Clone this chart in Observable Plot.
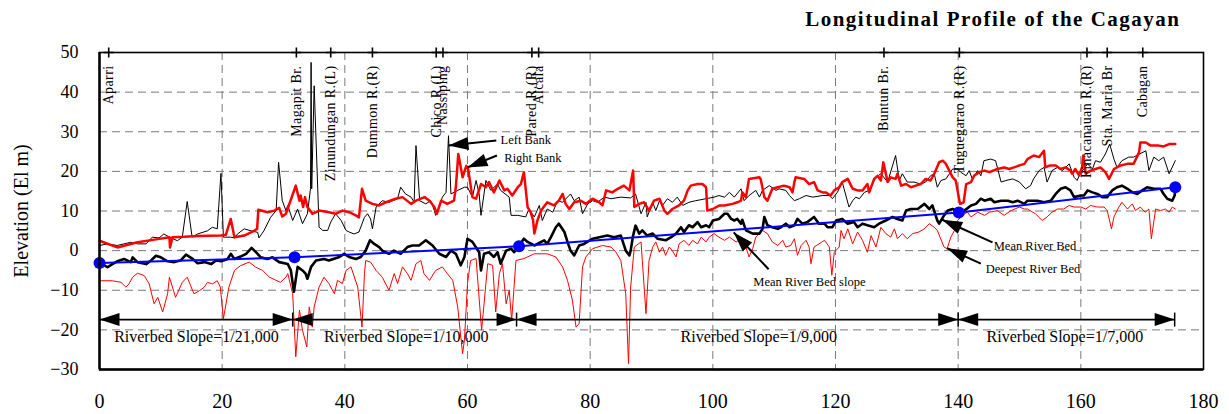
<!DOCTYPE html>
<html><head><meta charset="utf-8">
<script src="https://cdn.jsdelivr.net/npm/d3@7"></script>
<script src="https://cdn.jsdelivr.net/npm/@observablehq/plot@0.6"></script>
<style>
body{margin:0;background:#fff;}
#chart{position:relative;width:1229px;height:414px;}
</style></head><body><div id="chart"></div>
<script>
// ---------- DATA ----------
const xTicks = [0,20,40,60,80,100,120,140,160,180];
const yTicks = [-30,-20,-10,0,10,20,30,40,50];

const locationNames = ["Aparri","Magapit Br.","Zinundungan R.(L)","Dummon R.(R)","Chico R.(L)","Nassiping","Pared R.(R)","Alcala","Buntun Br.","Tuguegarao R.(R)","Pinacanauan R.(R)","Sta. Maria Br","Cabagan"];
const locationKm = [1.5,32.1,37.7,44.5,54.9,56.0,70.5,71.6,127.9,140.2,161.0,164.3,170.1];

const leftBank = [[0,1.3],[1.3,1.7],[2.9,1.3],[5.1,2.1],[6.2,1.7],[7.6,1.7],[8.6,3.4],[9.7,3.2],[10.5,4.2],[11.4,3.4],[12.7,2.5],[13.5,3.4],[14.3,12.4],[15.1,3.4],[16,4.2],[17.6,5],[18.4,5.9],[19.2,5.5],[19.8,19.5],[20.2,3.4],[21.4,3.4],[22,3.2],[22.5,4.2],[23.6,5.5],[24.7,5],[25.8,4.6],[26,3.2],[26.8,5],[27.9,8.4],[28.8,10.1],[29.2,22.3],[29.8,12.6],[30.4,10.1],[30.7,11.4],[31.5,7.6],[32.3,10.5],[33.1,6.8],[33.9,9.3],[34.4,15.6],[34.5,47.5],[34.6,15.6],[35,41.6],[35.8,5.9],[36.4,5.1],[37.2,5.1],[37.7,7.2],[38.5,9.3],[39.4,7.6],[40.2,5.1],[40.7,4.7],[41.5,4.2],[42.3,4.7],[43.2,8.4],[43.7,9.3],[44.2,8],[44.5,5.5],[45.1,11],[46.1,12.6],[47.2,12.2],[48.6,13.1],[49.1,16],[49.9,14.3],[50.8,13.5],[51.3,12.2],[51.6,26.5],[52.2,12.6],[53.2,11.8],[54,12.6],[54.6,10.1],[54.8,8.9],[55.4,11],[55.9,13.5],[56.5,14.7],[56.9,29],[57.3,14.3],[58.4,15.2],[59.5,16],[60,16],[60.8,13.5],[61.4,17.7],[61.9,14.3],[62.2,8.9],[63,17.7],[63.8,15.2],[64.9,16.8],[65.4,15.2],[66.8,13.5],[67.1,8.9],[68.2,8.9],[69.5,8.5],[70,10.5],[70.9,8.5],[71.7,11.4],[72.2,7.6],[73,10.5],[73.9,9.7],[74.7,12.6],[75.5,12.2],[76.8,14.3],[77.4,12.6],[78.2,13.5],[78.75,9.3],[79.6,11.8],[80.4,12.6],[81.2,12.2],[82.3,13.5],[83.4,13.1],[85,13.5],[86.6,13.3],[87.4,14.3],[88.3,9.3],[89.1,12.2],[89.3,8.5],[90.2,12.2],[90.7,10.1],[91.3,12.6],[91.8,11.4],[92.6,13.1],[93.4,12.2],[94.2,13.5],[95.1,11.4],[96.1,12.2],[97.2,12.6],[98.9,13.1],[100.2,13.5],[101,13.9],[101.9,13.5],[102.7,14.7],[103.5,13.5],[104.6,15.6],[105.1,12.6],[105.9,13.9],[107,15.2],[107.6,13.5],[108.1,15.2],[109.2,16.4],[110.3,15.2],[110.8,15.6],[111.9,15.2],[112.5,13.9],[113.3,12.6],[114.1,13.1],[115.2,13.9],[116.3,13.5],[117.9,13.9],[119,13.9],[119.5,13.1],[120.3,14.7],[121.1,17.3],[122.2,11],[122.8,12.6],[123.3,13.5],[123.9,13.1],[124.7,14.7],[125.5,15.2],[126.6,18.5],[127.4,19.4],[128.5,17.3],[129.8,24],[130.4,17.7],[130.9,19.4],[131.7,17.3],[132.8,17.3],[133.9,16.8],[134.7,17.3],[135.5,18.9],[136.1,19.4],[136.6,16],[137.2,17.7],[138,18.1],[139.1,20.6],[139.9,20.6],[140.4,19.8],[141.3,18.9],[141.8,20.2],[142.3,18.1],[143.2,20.2],[143.7,18.9],[144.2,22.7],[145.3,23.1],[146.1,22.7],[147,17.3],[147.8,17.7],[148.9,18.1],[150,17.3],[151,15.6],[151.8,16.4],[152.3,18.1],[153.2,20.2],[154,21],[154.5,17.3],[155.3,20.2],[156.2,21],[157,20.2],[158.1,21.9],[158.9,18.5],[159.4,17.7],[160,19.8],[160.5,20.6],[161.1,21.9],[161.9,20.6],[162.4,22.7],[163.2,22.3],[164,24.4],[164.7,26.9],[165.4,23.1],[165.9,21],[166.7,22.7],[167.8,23.6],[168.6,23.6],[170.6,25.2],[171.1,20.2],[171.9,23.6],[172.7,22.7],[173.5,23.6],[174.4,19.4],[175.4,22.7]];

const rightBank = [[0,2.5],[2.9,0.8],[6.2,2.1],[9.5,2.9],[11.4,3.4],[11.5,0.8],[11.9,3.4],[13.8,3.5],[16,3.7],[19.8,3.8],[20.6,4],[21.4,8],[22,3.4],[23.6,3.8],[25.2,5],[25.7,5.5],[25.9,10.3],[27.4,9.7],[28.5,10.1],[29.3,10.8],[29.8,8.6],[30.4,9.3],[32,16.4],[32.6,12.6],[32.8,13.9],[33.2,11],[33.5,13.5],[33.9,11],[34.7,9.3],[35.8,10.1],[37.4,9.7],[38.5,9.3],[39.6,10.1],[40.7,9.7],[41.8,8.9],[42.3,8.4],[42.8,15.6],[43.4,12.6],[44.5,11.8],[45.6,11.4],[46.7,12.2],[48.3,13.1],[49.4,13.5],[50.8,11.8],[51.6,12.6],[53,13.5],[53.8,12.6],[54.6,11],[55,9.3],[55.7,12.6],[56.7,11.8],[57.8,12.6],[58.1,16],[58.5,24.4],[59.2,18.5],[59.8,21.4],[60.1,20.6],[60.8,13.5],[61.4,13.1],[62.2,16.8],[63,16],[63.5,17.3],[64.3,14.7],[65.2,17.7],[66,15.2],[66.5,15.6],[67.3,13.9],[68.2,16],[68.7,16.8],[69.2,19.8],[69.8,11],[70.3,9.7],[70.7,7.6],[70.9,4.3],[71.4,7.6],[72,10.1],[73,12.2],[74.1,11.4],[74.9,12.6],[75.5,14.3],[76,11.8],[76.6,10.5],[77.4,12.2],[78.5,12.6],[79.3,11.8],[80.4,13.1],[81.5,12.2],[82,11.4],[82.6,15.2],[83.6,14.7],[84.5,15.6],[85.5,16.4],[86.4,15.2],[87,20.2],[87.2,11],[88,11.8],[88.8,12.2],[89.6,10.1],[90.4,12.6],[91.3,13.1],[92.1,10.1],[92.6,9.3],[93.4,10.5],[94.5,11.4],[95.3,12.6],[95.9,15.2],[96.4,16.4],[97.5,16.8],[98.3,16.8],[98.9,16],[99.1,10.1],[100,10.5],[101.1,11.4],[101.9,11.4],[103.2,11.8],[104,12.2],[104.6,12.6],[104.8,14.7],[105.4,13.5],[105.9,18.1],[107.6,18.5],[107.8,18.1],[108.4,13.5],[108.9,12.6],[109.7,15.6],[110.6,16],[111.6,16.4],[112.5,16],[113,14.7],[113.3,17.3],[113.5,18.5],[114.9,18.1],[115.7,16.8],[116.5,17.3],[117.1,15.2],[117.9,14.7],[118.4,14.7],[119.2,13.9],[119.8,15.2],[120.6,16],[121.1,17.3],[122,18.1],[122.8,15.6],[123.6,15.2],[124.4,15.2],[125.2,16.8],[125.5,14.7],[126.3,18.1],[126.9,18.9],[127.4,17.7],[127.8,22.3],[128.5,17.3],[129,18.5],[129.8,18.1],[130.1,19.4],[130.7,16.4],[131.5,16.8],[132.3,16],[133.1,16.4],[133.9,16.8],[134.7,18.1],[135.5,17.7],[136.1,19.4],[136.9,22.3],[137.5,22.7],[138,21.9],[139.1,18.5],[139.6,17.7],[140.3,11.8],[140.9,12.2],[141.3,16.8],[142.1,17.3],[142.6,18.9],[143.4,19.8],[144.3,20.2],[145.1,19.8],[146.4,20.6],[147.5,21],[148.3,20.6],[149.1,21],[150,21.5],[150.8,21.9],[151.3,23.1],[152.3,24],[153.2,23.6],[154,25.2],[154.2,21],[155,21.5],[155.9,21.5],[156.7,20.6],[157.5,21],[158.3,20.2],[158.6,19.4],[159.1,20.6],[159.7,19],[160.2,21],[160.4,24],[160.8,19.4],[161.6,20.2],[162.4,20.6],[163.2,21],[164,19.8],[164.6,18.1],[165.4,20.6],[166.5,21.5],[167.6,21.9],[168.6,21.9],[169.5,24.8],[169.7,27.3],[170.6,27.3],[171.4,26.5],[172.7,26.5],[173.5,26.3],[174.4,26.9],[175.4,26.9]];

const meanBed = [[0,-2.9],[1.3,-4.2],[2.1,-3.4],[2.9,-2.7],[4,-2.1],[5.1,-2.9],[5.4,-1.7],[6.2,-2.9],[7.6,-3.4],[8.4,-2.5],[9.2,-1.3],[10,-1.7],[11.1,-2.7],[12.2,-2.9],[13.3,-2.4],[14.1,-1],[15.2,-2.1],[16,-3.2],[17.1,-2.9],[18.2,-3.4],[19,-2.5],[19.8,-2.7],[20.9,-2.1],[21.4,-0.8],[22,-2.1],[23,-1.5],[23.9,-0.8],[24.8,0.7],[25.5,-0.4],[26.3,-1.7],[27.4,-2.1],[28.2,-1.7],[29.3,-2.9],[30.7,-3.4],[31.2,-5],[31.7,-10.4],[32.3,-4.1],[33.1,-5],[33.6,-5.8],[33.9,-7.1],[34.5,-4.1],[35.3,-2.5],[36.6,-2.1],[37.4,-2.5],[39.1,-1.6],[39.9,-0.8],[40.7,-1.6],[41.8,-2.1],[42.6,-1.6],[43.4,0],[44.1,2.6],[44.8,1.7],[45.6,0.9],[46.1,0],[47.2,-0.8],[48,0],[49.1,-0.8],[50.2,0.9],[51,1.3],[52.1,1.3],[53.2,2.6],[54.3,1.3],[55.4,-0.8],[56.5,-1.6],[57.3,0],[58.1,-0.8],[58.9,-3.7],[59.5,-1.6],[60,3],[60.8,2.2],[61.9,-0.4],[62.2,-5],[62.7,-0.8],[63.5,-0.4],[64.3,-1.6],[64.9,-0.4],[65.4,-3.3],[66.3,0],[67.1,0.5],[67.6,-0.4],[68.4,1.3],[69.2,3],[69.8,2.2],[70.9,1.3],[72.5,2.6],[73,1.7],[73.6,3.4],[74.4,5.9],[74.9,6.8],[75.8,4.7],[76.3,2.2],[76.8,0],[77.4,-1.2],[78.2,1.3],[79,1.7],[80.4,3],[81.5,3.4],[82.8,3.8],[83.9,3.4],[85,3.8],[85.8,0],[86.4,-1.2],[86.6,0],[87,3.8],[87.4,6.3],[88,4.3],[88.5,5.1],[89.3,3.8],[90.2,4.3],[91,3],[92.3,2.6],[93.2,3.4],[94,4.3],[94.8,5.9],[95.3,4.7],[96.1,6.4],[96.7,5.9],[97.5,7.2],[98.1,5.9],[98.9,6.4],[99.4,5.9],[100,7.6],[101,8],[101.9,9.3],[102.4,9.3],[103,8],[103.5,7.6],[104,8],[104.6,6.8],[104.8,7.8],[105.4,5.1],[106.5,4.3],[107.6,4.3],[108.1,5.5],[108.4,8.5],[108.9,6.4],[109.7,5.9],[110.6,5.5],[111.1,5.9],[111.9,6.8],[112.5,5.9],[113.3,6.4],[113.8,8],[114.6,6.8],[115.4,7.2],[116.5,8.5],[117.3,6.8],[118.2,6.8],[118.7,5.9],[119.5,5.9],[120.1,7.6],[121.1,8],[122,6.8],[123,7.2],[123.6,5.9],[124.4,6.8],[125.2,6.4],[126.3,5.9],[127.1,6.8],[128.2,7.6],[129.3,8.5],[130.1,8],[130.9,7.6],[131.5,10.1],[132.3,10.5],[133.4,10.5],[134.5,11.8],[135.3,10.5],[135.8,11.4],[136.6,7.6],[136.9,6.8],[137.7,8.9],[138.3,10.1],[139.1,10.5],[139.6,10.1],[140.3,9.7],[141,10.1],[142.1,11.4],[142.9,11.8],[143.7,13.1],[144.3,12.6],[145.3,13.1],[145.9,12.2],[147,12.6],[148.1,12.6],[148.9,12.2],[149.7,12.6],[150.8,11.8],[151.3,12.6],[152.9,12.6],[154,12.2],[155.1,12.6],[155.9,14.3],[156.7,15.6],[157.5,16],[158.3,15.2],[158.9,13.5],[160,13.9],[160.5,13.9],[161.1,15.2],[161.9,14.7],[162.7,14.3],[163.5,13.5],[164.3,13.5],[165.1,15.2],[165.9,16],[166.7,16.4],[167.6,15.6],[168.4,14.7],[169.2,14.3],[170,15.2],[170.8,16],[171.9,15.6],[173,15.6],[173.5,14.3],[174.1,13.1],[174.9,12.6],[175.3,13.9],[175.4,16]];

const deepestBed = [[0,-7.6],[2.1,-7.6],[3.5,-8],[4.3,-9.2],[4.8,-8.4],[5.4,-6.7],[6.2,-5.7],[7.3,-6.3],[8.1,-8.4],[8.9,-13.4],[9.5,-11.8],[10.3,-15.5],[11.1,-10.9],[11.4,-6.7],[12.4,-11.8],[13.5,-8],[14.3,-6.7],[15.4,-10.9],[16.3,-10.1],[17.1,-9.2],[17.6,-8],[18.4,-8.4],[19.2,-7.6],[19.7,-9.2],[20.2,-17.2],[21.1,-9.2],[22,-5],[23,-3.8],[24.4,-2.9],[25.5,-4.2],[26.6,-5],[27.7,-6.7],[29.5,-8],[30.4,-6.7],[30.7,-5.8],[31.5,-10.9],[32,-26.8],[32.6,-15],[33.1,-20.1],[33.8,-24.3],[34.2,-14.2],[34.7,-19.3],[35,-14.2],[35.8,-9.2],[36.6,-6.7],[37.4,-8.3],[38.3,-10.9],[38.8,-7.5],[39.6,-8.3],[40.2,-5],[41,-4.1],[42.1,-9.2],[42.8,-19.3],[43.2,-5.8],[43.4,-2.5],[44.2,-2.9],[45.1,-5],[46.1,-6.7],[47.2,-10],[48.05,-5.8],[48.6,-8.3],[49.4,-4.1],[50.2,-5.8],[50.8,-7.5],[51.6,-3.3],[52.4,-2.5],[52.9,-5.8],[53.8,-7.5],[54.8,-5],[55.9,-4.1],[56.7,-5.8],[57.6,-7.5],[58.4,-14.2],[59.2,-26],[59.5,-22.6],[60,-8.3],[60.5,-2.5],[61.4,-2],[62.3,-20.1],[63.3,-3.3],[64.1,-3.7],[64.6,-15.5],[65.2,-5.8],[65.7,-3.3],[66.3,-13.4],[66.8,-10],[67.2,-17.6],[67.9,-2.5],[69.2,-2],[70.9,-0.8],[73,-0.8],[74.4,-1.6],[75.5,-4.1],[76.3,-7.5],[77.1,-12.5],[77.7,-19.3],[78.2,-18.4],[78.75,-4.1],[79.3,-1.6],[80.4,0.5],[82,1.3],[83.4,0.9],[84.2,-0.4],[85,-2.5],[85.8,-10.9],[86.25,-28.5],[86.6,-9.2],[87.2,0.9],[88.3,2.2],[88.5,-2.5],[89.1,-15.9],[89.6,-2.5],[90.2,0.9],[90.7,2.2],[91.3,-0.4],[91.8,0.9],[92.3,-1.2],[92.9,0.9],[93.4,0],[94,-1.6],[94.5,1.7],[95.3,2.6],[96.1,1.3],[96.7,2.6],[97.5,1.7],[98.1,3.4],[98.9,2.2],[99.4,3.4],[100.2,4.3],[101,3.4],[101.9,2.6],[102.7,3.4],[103.8,2.2],[104.6,3],[105.4,0.9],[105.9,-1.6],[106.5,0.5],[107,3.4],[108.1,5.1],[108.9,4.3],[109.7,2.2],[110.6,1.3],[111.4,2.6],[111.9,0.9],[112.7,1.3],[113.3,3],[113.8,-1.2],[114.4,1.3],[115.2,2.6],[115.7,0.9],[116,-3.3],[116.5,0.9],[117.3,1.7],[118.2,2.6],[119,0.9],[119.4,-6.2],[119.8,-0.4],[120.6,0.9],[120.9,5.1],[121.4,3],[122,5.5],[122.8,1.7],[123.6,4.7],[124.4,2.6],[125.2,-0.4],[125.8,3.8],[126.6,0.9],[127.4,5.9],[128.2,4.3],[129,3.4],[129.6,5.5],[130.1,3],[130.9,4.3],[131.7,3],[132.6,4.3],[133.6,4.7],[134.5,5.5],[135.3,6.8],[136.1,5.9],[136.6,5.1],[137.7,0.9],[138.2,0.5],[138.8,3.4],[139.4,5.1],[139.9,7.6],[140.7,8.9],[141.5,9.7],[142.1,8.5],[143.2,9.7],[144.3,8.9],[145.1,9.7],[146.4,10.1],[147.5,8.9],[148.6,10.1],[150,11],[150.8,10.5],[151.3,10.5],[152.6,9.3],[153.7,7.6],[154.5,8.5],[155.3,9.7],[156.2,10.5],[157.2,10.5],[158.1,11.4],[158.9,11],[160,11],[160.8,10.5],[161.6,11.4],[162.7,11],[163.8,11],[164.3,10.1],[165,5.5],[165.4,8.5],[166.2,11],[166.7,12.2],[167.6,10.5],[168.4,11.8],[168.9,10.1],[169.7,11],[170.5,9.7],[171.1,10.5],[171.5,3],[172.2,10.5],[173,10.1],[173.8,10.5],[174.4,9.7],[174.9,11],[175.4,10.5]];

const slopePoints = [[0,-3.1],[31.8,-1.7],[68.4,1.1],[140.1,9.6],[175.4,16]];

const slopeBreaksKm = [0,31.5,68,140,175.3];
const slopeArrowEl = -17.4;
const slopeLabels = ["Riverbed Slope=1/21,000","Riverbed Slope=1/10,000","Riverbed Slope=1/9,000","Riverbed Slope=1/7,000"];
const slopeLabelKm = [15.8,50,107.5,157.4];
const slopeLabelEl = -21.7;

const annotationTexts = ["Left Bank","Right Bank","Mean River Bed slope","Mean River Bed","Deepest River Bed"];
const annotationTextKm = [65.4,66.0,106.6,145.8,144.5];
const annotationTextEl = [28.0,23.5,-8.0,1.1,-4.6];
const arrowTail = [[64.7,27.8],[64.8,24.0],[109.1,-4.7],[145.6,2.1],[143.7,-3.3]];
const arrowHead = [[56.9,26.5],[60.0,21.0],[103.4,4.6],[137.4,7.8],[138.2,0.6]];

const titleText = "Longitudinal Profile of the Cagayan";
const yLabelText = "Elevation (El m)";

// ---------- LAYOUT ----------
const W = 1229, H = 414, ML = 99, MR = 26, MT = 52, MB = 45;
const kx = (W - ML - MR) / 180, ky = (H - MT - MB) / 80;
const serif = "Liberation Serif, Times New Roman, serif";

const headSym = {draw(ctx){ ctx.moveTo(0,0); ctx.lineTo(-20,-6.5); ctx.lineTo(-20,6.5); ctx.closePath(); }};
const plusSym = {draw(ctx){ ctx.moveTo(-5,0); ctx.lineTo(5,0); ctx.moveTo(0,-5); ctx.lineTo(0,5); }};
const vbarSym = {draw(ctx){ ctx.moveTo(0,-7); ctx.lineTo(0,7); }};

const toObj = a => a.map(([x,y]) => ({x,y}));
const locs = locationNames.map((name,i) => ({name, x: locationKm[i]}));

const slopeHeads = [];
for (let i = 0; i < slopeBreaksKm.length - 1; i++) {
  slopeHeads.push({x: slopeBreaksKm[i], y: slopeArrowEl, a: 180});
  slopeHeads.push({x: slopeBreaksKm[i+1], y: slopeArrowEl, a: 0});
}
const slopeTicks = slopeBreaksKm.slice(1).map(x => ({x, y: slopeArrowEl}));
const slopeLab = slopeLabels.map((t,i) => ({t, x: slopeLabelKm[i], y: slopeLabelEl}));

const annos = annotationTexts.map((t,i) => ({t, x: annotationTextKm[i], y: annotationTextEl[i]}));
const arrows = arrowTail.map((t,i) => {
  const h = arrowHead[i];
  const a = Math.atan2(-(h[1]-t[1])*ky, (h[0]-t[0])*kx) * 180 / Math.PI;
  return {x1: t[0], y1: t[1], x2: h[0], y2: h[1], a};
});

const plot = Plot.plot({
  width: W, height: H,
  marginLeft: ML, marginRight: MR, marginTop: MT, marginBottom: MB,
  style: {fontFamily: serif, background: "white", overflow: "visible"},
  x: {domain: [0,180]},
  y: {domain: [-30,50]},
  marks: [
    Plot.gridX(xTicks.slice(1,-1), {stroke: "#7a7a7a", strokeOpacity: 1, strokeDasharray: "8,5", strokeWidth: 1}),
    Plot.gridY(yTicks.slice(1,-1), {stroke: "#7a7a7a", strokeOpacity: 1, strokeDasharray: "8,5", strokeWidth: 1}),
    Plot.axisX({ticks: xTicks, tickSize: 0, tickPadding: 24, fontSize: 20, label: null}),
    Plot.axisY({ticks: yTicks, tickSize: 0, tickPadding: 21, fontSize: 18, label: null}),
    Plot.line(toObj(deepestBed), {x: "x", y: "y", stroke: "#ff0000", strokeWidth: 1}),
    Plot.line(toObj(leftBank), {x: "x", y: "y", stroke: "#000", strokeWidth: 1}),
    Plot.line(toObj(rightBank), {x: "x", y: "y", stroke: "#ff0000", strokeWidth: 2.5}),
    Plot.line(toObj(meanBed), {x: "x", y: "y", stroke: "#000", strokeWidth: 2.6}),
    Plot.line(toObj(slopePoints), {x: "x", y: "y", stroke: "#0000ff", strokeWidth: 2}),
    Plot.dot(toObj(slopePoints), {x: "x", y: "y", r: 6, fill: "#0000ff", stroke: "none"}),
    // riverbed slope arrows
    Plot.ruleY([slopeArrowEl], {x1: slopeBreaksKm[0], x2: slopeBreaksKm[slopeBreaksKm.length-1], stroke: "#000", strokeWidth: 1.8}),
    Plot.dot(slopeHeads, {x: "x", y: "y", rotate: "a", symbol: headSym, fill: "#000", stroke: "none"}),
    Plot.dot(slopeTicks, {x: "x", y: "y", symbol: vbarSym, stroke: "#000", fill: "none", strokeWidth: 1.5}),
    Plot.text(slopeLab, {x: "x", y: "y", text: "t", fontSize: 16, textAnchor: "middle", lineAnchor: "middle", fill: "#000"}),
    // annotation arrows
    Plot.link(arrows, {x1: "x1", y1: "y1", x2: "x2", y2: "y2", stroke: "#000", strokeWidth: 2}),
    Plot.dot(arrows, {x: "x2", y: "y2", rotate: "a", symbol: headSym, fill: "#000", stroke: "none"}),
    Plot.text(annos, {x: "x", y: "y", text: "t", fontSize: 12.5, textAnchor: "start", lineAnchor: "middle", fill: "#000"}),
    // location labels and top ticks
    Plot.text(locs, {x: "x", text: "name", frameAnchor: "top", dy: 13, rotate: -90, textAnchor: "end", lineAnchor: "middle", fontSize: 14, fill: "#000"}),
    Plot.frame({stroke: "#000", strokeWidth: 1.6}),
    Plot.ruleX([0], {stroke: "#000", strokeWidth: 2.4}),
    Plot.ruleY([-30], {stroke: "#000", strokeWidth: 2.4}),
    Plot.dot(locs, {x: "x", frameAnchor: "top", symbol: plusSym, stroke: "#000", fill: "none", strokeWidth: 1.6}),
    // title and y label
    Plot.text([titleText], {frameAnchor: "top-right", dx: -23, dy: -33, textAnchor: "end", lineAnchor: "middle", fontSize: 21, fontWeight: "bold", fill: "#000"}),
    Plot.text([yLabelText], {frameAnchor: "left", dx: -78, rotate: -90, textAnchor: "middle", lineAnchor: "middle", fontSize: 20, fill: "#000"})
  ]
});
document.getElementById("chart").appendChild(plot);
// letter spacing by text content
const spacingFor = new Map([[titleText, "1.5px"]]);
locationNames.forEach(t => spacingFor.set(t, "0.4px"));
d3.select(plot).selectAll("text").each(function() {
  const s = spacingFor.get(this.textContent);
  if (s) { this.setAttribute("letter-spacing", s); this.style.letterSpacing = s; }
});
</script></body></html>
